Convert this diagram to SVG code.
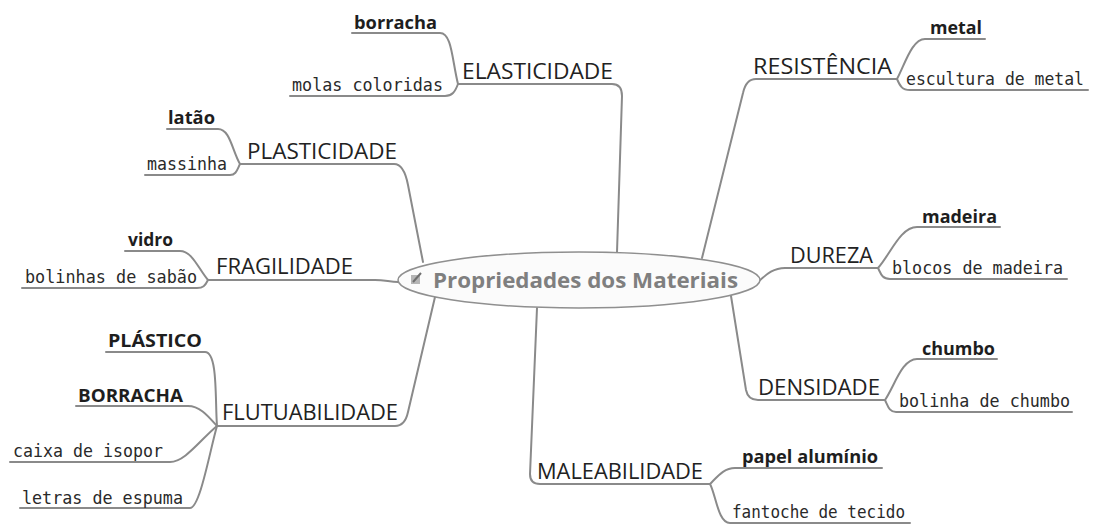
<svg xmlns="http://www.w3.org/2000/svg" width="1096" height="525" viewBox="0 0 1096 525">
<style>
.bg{fill:#ffffff}
.ln{fill:none;stroke:#8a8a8a;stroke-width:2;stroke-linecap:round;stroke-linejoin:round}
.cat{font-family:"Open Sans","Liberation Sans",sans-serif;font-size:22px;fill:#222222}
.bold{font-family:"Open Sans","Liberation Sans",sans-serif;font-size:18px;font-weight:700;fill:#1e1e1e}
.mono{font-family:"DejaVu Sans Mono","Liberation Mono",monospace;font-size:17px;fill:#2a2a2a}
.center{font-family:"Open Sans","Liberation Sans",sans-serif;font-size:22px;font-weight:700;fill:#7f7f7f}
</style>
<rect class="bg" x="0" y="0" width="1096" height="525"/>
<g id="connectors">
<path class="ln" d="M617 252 L622 96 Q622 84 612 84 H458"/>
<path class="ln" d="M458 84 C452 60 452 33 440 33 H352"/>
<path class="ln" d="M458 84 C455 92 452 96 445 96 H290"/>
<path class="ln" d="M702 258 L743 93 Q746 79 756 79 H897"/>
<path class="ln" d="M897 79 C905 64 912 39 925 39 H985"/>
<path class="ln" d="M897 79 C900 86 902 90 910 90 H1088"/>
<path class="ln" d="M423 262 L408 185 Q404 164 394 164 H240"/>
<path class="ln" d="M240 164 C232 150 230 129 218 129 H167"/>
<path class="ln" d="M240 164 C237 170 236 175 230 175 H145"/>
<path class="ln" d="M398 282 C390 282 385 280 375 280 H208"/>
<path class="ln" d="M208 280 C198 268 192 251 180 251 H125"/>
<path class="ln" d="M208 280 C205 286 203 288 197 288 H22"/>
<path class="ln" d="M435 297 L408 412 Q405 426 395 426 H217"/>
<path class="ln" d="M217 426 C215 400 218 352 205 352 H106"/>
<path class="ln" d="M217 426 C208 416 200 406 188 406 H76"/>
<path class="ln" d="M217 426 C200 440 185 462 170 462 H10"/>
<path class="ln" d="M217 426 C210 450 200 508 190 508 H20"/>
<path class="ln" d="M537 308 L530 474 Q530 484 540 484 H710"/>
<path class="ln" d="M710 484 C718 476 724 468 735 468 H882"/>
<path class="ln" d="M710 484 C716 495 718 523 730 523 H910"/>
<path class="ln" d="M758 282 C765 276 772 268 785 268 H878"/>
<path class="ln" d="M878 268 C890 255 900 227 917 227 H1000"/>
<path class="ln" d="M878 268 C881 274 882 279 890 279 H1067"/>
<path class="ln" d="M731 296 L746 390 Q748 400 758 400 H885"/>
<path class="ln" d="M885 400 C895 385 902 359 917 359 H997"/>
<path class="ln" d="M885 400 C888 406 889 412 896 412 H1072"/>
</g>
<g id="central">
<ellipse cx="579" cy="280" rx="181" ry="28" fill="#fbfbfb" stroke="#8f8f8f" stroke-width="1.5"/>
<g id="central-icon">
<rect x="411" y="275" width="9" height="9" fill="#b5b5b5"/>
<path d="M413 282 L421 273" stroke="#6f6f6f" stroke-width="2" fill="none"/>
</g>
<text class="center" x="433" y="288" textLength="305" lengthAdjust="spacingAndGlyphs">Propriedades dos Materiais</text>
</g>
<g id="elasticidade">
<text class="cat" x="462" y="79" textLength="151" lengthAdjust="spacingAndGlyphs">ELASTICIDADE</text>
<text class="bold" x="354" y="29" textLength="83" lengthAdjust="spacingAndGlyphs">borracha</text>
<text class="mono" x="292" y="91" textLength="151" lengthAdjust="spacingAndGlyphs">molas coloridas</text>
</g>
<g id="resistencia">
<text class="cat" x="753" y="74" textLength="139" lengthAdjust="spacingAndGlyphs">RESISTÊNCIA</text>
<text class="bold" x="930" y="34" textLength="52" lengthAdjust="spacingAndGlyphs">metal</text>
<text class="mono" x="906" y="85" textLength="178" lengthAdjust="spacingAndGlyphs">escultura de metal</text>
</g>
<g id="plasticidade">
<text class="cat" x="247" y="159" textLength="150" lengthAdjust="spacingAndGlyphs">PLASTICIDADE</text>
<text class="bold" x="168" y="124" textLength="47" lengthAdjust="spacingAndGlyphs">latão</text>
<text class="mono" x="147" y="170" textLength="80" lengthAdjust="spacingAndGlyphs">massinha</text>
</g>
<g id="fragilidade">
<text class="cat" x="216" y="274" textLength="137" lengthAdjust="spacingAndGlyphs">FRAGILIDADE</text>
<text class="bold" x="128" y="246" textLength="45" lengthAdjust="spacingAndGlyphs">vidro</text>
<text class="mono" x="25" y="283" textLength="172" lengthAdjust="spacingAndGlyphs">bolinhas de sabão</text>
</g>
<g id="flutuabilidade">
<text class="cat" x="222" y="420" textLength="176" lengthAdjust="spacingAndGlyphs">FLUTUABILIDADE</text>
<text class="bold" x="108" y="347" textLength="94" lengthAdjust="spacingAndGlyphs">PLÁSTICO</text>
<text class="bold" x="78" y="402" textLength="105" lengthAdjust="spacingAndGlyphs">BORRACHA</text>
<text class="mono" x="13" y="457" textLength="150" lengthAdjust="spacingAndGlyphs">caixa de isopor</text>
<text class="mono" x="22" y="504" textLength="161" lengthAdjust="spacingAndGlyphs">letras de espuma</text>
</g>
<g id="maleabilidade">
<text class="cat" x="537" y="479" textLength="166" lengthAdjust="spacingAndGlyphs">MALEABILIDADE</text>
<text class="bold" x="742" y="463" textLength="136" lengthAdjust="spacingAndGlyphs">papel alumínio</text>
<text class="mono" x="732" y="518" textLength="173" lengthAdjust="spacingAndGlyphs">fantoche de tecido</text>
</g>
<g id="dureza">
<text class="cat" x="790" y="263" textLength="83" lengthAdjust="spacingAndGlyphs">DUREZA</text>
<text class="bold" x="922" y="223" textLength="75" lengthAdjust="spacingAndGlyphs">madeira</text>
<text class="mono" x="892" y="274" textLength="171" lengthAdjust="spacingAndGlyphs">blocos de madeira</text>
</g>
<g id="densidade">
<text class="cat" x="758" y="395" textLength="122" lengthAdjust="spacingAndGlyphs">DENSIDADE</text>
<text class="bold" x="922" y="355" textLength="73" lengthAdjust="spacingAndGlyphs">chumbo</text>
<text class="mono" x="899" y="407" textLength="171" lengthAdjust="spacingAndGlyphs">bolinha de chumbo</text>
</g>
</svg>
